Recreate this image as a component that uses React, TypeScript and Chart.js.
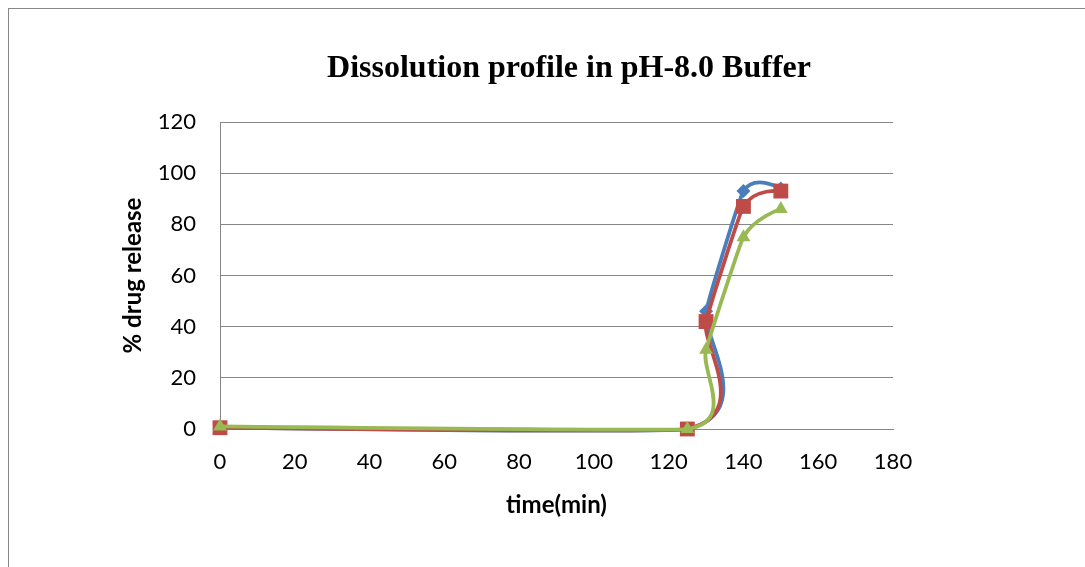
import React, { useEffect, useRef } from "react";
import { Chart, registerables } from "chart.js";

Chart.register(...registerables);

const chartTitle = "Dissolution profile in pH-8.0 Buffer";
const xAxisTitle = "time(min)";
const yAxisTitle = "% drug release";

const timePoints = [0, 125, 130, 140, 150];
const seriesBlue = [0.5, 0, 46, 93, 94];
const seriesRed = [0.5, 0, 42, 87, 93];
const seriesGreen = [1, 0, 31, 75, 86];

const xMin = 0;
const xMax = 180;
const yMin = 0;
const yMax = 120;
const tickStep = 20;

const toPoints = (vals: number[]) => timePoints.map((t, i) => ({ x: t, y: vals[i] }));

const titlePlugin = {
  id: "customTitle",
  afterDraw(chart: any) {
    const ctx = chart.ctx;
    ctx.save();
    ctx.font = "bold 32px 'Liberation Serif', 'Times New Roman', serif";
    ctx.fillStyle = "#000";
    ctx.textAlign = "center";
    ctx.textBaseline = "alphabetic";
    ctx.fillText(chartTitle, 569, 77);
    ctx.restore();
  },
};

// Office-style smoothing of the lines: control points from neighbouring points
const SMOOTH = 0.19;
const CAP = 0.62;
const smoothPlugin = {
  id: "officeSmooth",
  beforeDatasetsDraw(chart: any) {
    chart.getSortedVisibleDatasetMetas().forEach((meta: any) => {
      const line = meta.dataset;
      if (!line) return;
      line.updateControlPoints(chart.chartArea, meta.indexAxis);
      const pts = meta.data;
      const n = pts.length;
      for (let i = 0; i < n; i++) {
        const cur = pts[i];
        const prev = pts[i - 1] || cur;
        const next = pts[i + 1] || cur;
        const d01 = Math.hypot(cur.x - prev.x, cur.y - prev.y);
        const d12 = Math.hypot(next.x - cur.x, next.y - cur.y);
        const s = d01 + d12 || 1;
        const tx = next.x - prev.x;
        const ty = next.y - prev.y;
        const tl = Math.hypot(tx, ty) || 1;
        let lPrev = SMOOTH * (d12 / s) * tl;
        let lNext = SMOOTH * (d01 / s) * tl;
        lPrev = Math.min(lPrev, CAP * d01);
        lNext = Math.min(lNext, CAP * d12);
        cur.cp1x = cur.x - (lPrev * tx) / tl;
        cur.cp1y = cur.y - (lPrev * ty) / tl;
        cur.cp2x = cur.x + (lNext * tx) / tl;
        cur.cp2y = cur.y + (lNext * ty) / tl;
      }
      line._path = undefined;
    });
  },
};

export default function App() {
  const ref = useRef<HTMLCanvasElement | null>(null);

  useEffect(() => {
    if (!ref.current) return;
    const common = {
      showLine: true,
      borderWidth: 3.75,
      tension: 0.4,
      pointBorderWidth: 0,
      clip: false,
    };
    const chart = new Chart(ref.current, {
      type: "scatter",
      data: {
        datasets: [
          {
            ...common,
            label: "Blue",
            data: toPoints(seriesBlue),
            borderColor: "#4A7EBB",
            backgroundColor: "#4A7EBB",
            pointStyle: "rectRot",
            pointRadius: 7,
            order: 3,
          },
          {
            ...common,
            label: "Red",
            data: toPoints(seriesRed),
            borderColor: "#BE4B48",
            backgroundColor: "#BE4B48",
            pointStyle: "rect",
            pointRadius: 10.5,
            order: 2,
          },
          {
            ...common,
            label: "Green",
            data: toPoints(seriesGreen),
            borderColor: "#98B954",
            backgroundColor: "#98B954",
            pointStyle: "triangle",
            pointRadius: 8,
            order: 1,
          },
        ],
      },
      options: {
        responsive: false,
        animation: false,
        events: [],
        layout: { padding: { left: 0, right: 192, top: 122, bottom: 0 } },
        plugins: {
          legend: { display: false },
          tooltip: { enabled: false },
          title: { display: false },
        },
        scales: {
          x: {
            type: "linear",
            min: xMin,
            max: xMax,
            grid: { display: false, drawTicks: false },
            border: { display: true, color: "#868686", width: 1 },
            ticks: {
              stepSize: tickStep,
              padding: 20,
              color: "#000",
              font: { family: "Lato", size: 22 },
            },
            title: {
              display: true,
              text: xAxisTitle,
              color: "#000",
              font: { family: "Lato", size: 24, weight: "bold" },
              padding: { top: 0, bottom: 47.5 },
            },
            afterFit(scale: any) {
              scale.height = 567 - 429;
            },
          },
          y: {
            type: "linear",
            min: yMin,
            max: yMax,
            grid: { color: "#868686", lineWidth: 1, drawTicks: false },
            border: { display: true, color: "#868686", width: 1 },
            ticks: {
              stepSize: tickStep,
              padding: 24,
              color: "#000",
              font: { family: "Lato", size: 22 },
            },
            title: {
              display: true,
              text: yAxisTitle,
              color: "#000",
              font: { family: "Lato", size: 24, weight: "bold" },
              padding: { top: 118.5, bottom: 0 },
            },
            afterFit(scale: any) {
              scale.width = 220;
            },
          },
        },
      },
      plugins: [smoothPlugin, titlePlugin],
    } as any);
    return () => chart.destroy();
  }, []);

  return (
    <>
      <div
        style={{
          position: "fixed",
          left: 8,
          top: 8,
          width: 1200,
          height: 700,
          borderTop: "1px solid #878787",
          borderLeft: "1px solid #878787",
          boxSizing: "border-box",
        }}
      />
      <canvas
        ref={ref}
        width={1085}
        height={567}
        style={{ position: "fixed", left: 0, top: 0, width: 1085, height: 567, display: "block" }}
      />
    </>
  );
}
